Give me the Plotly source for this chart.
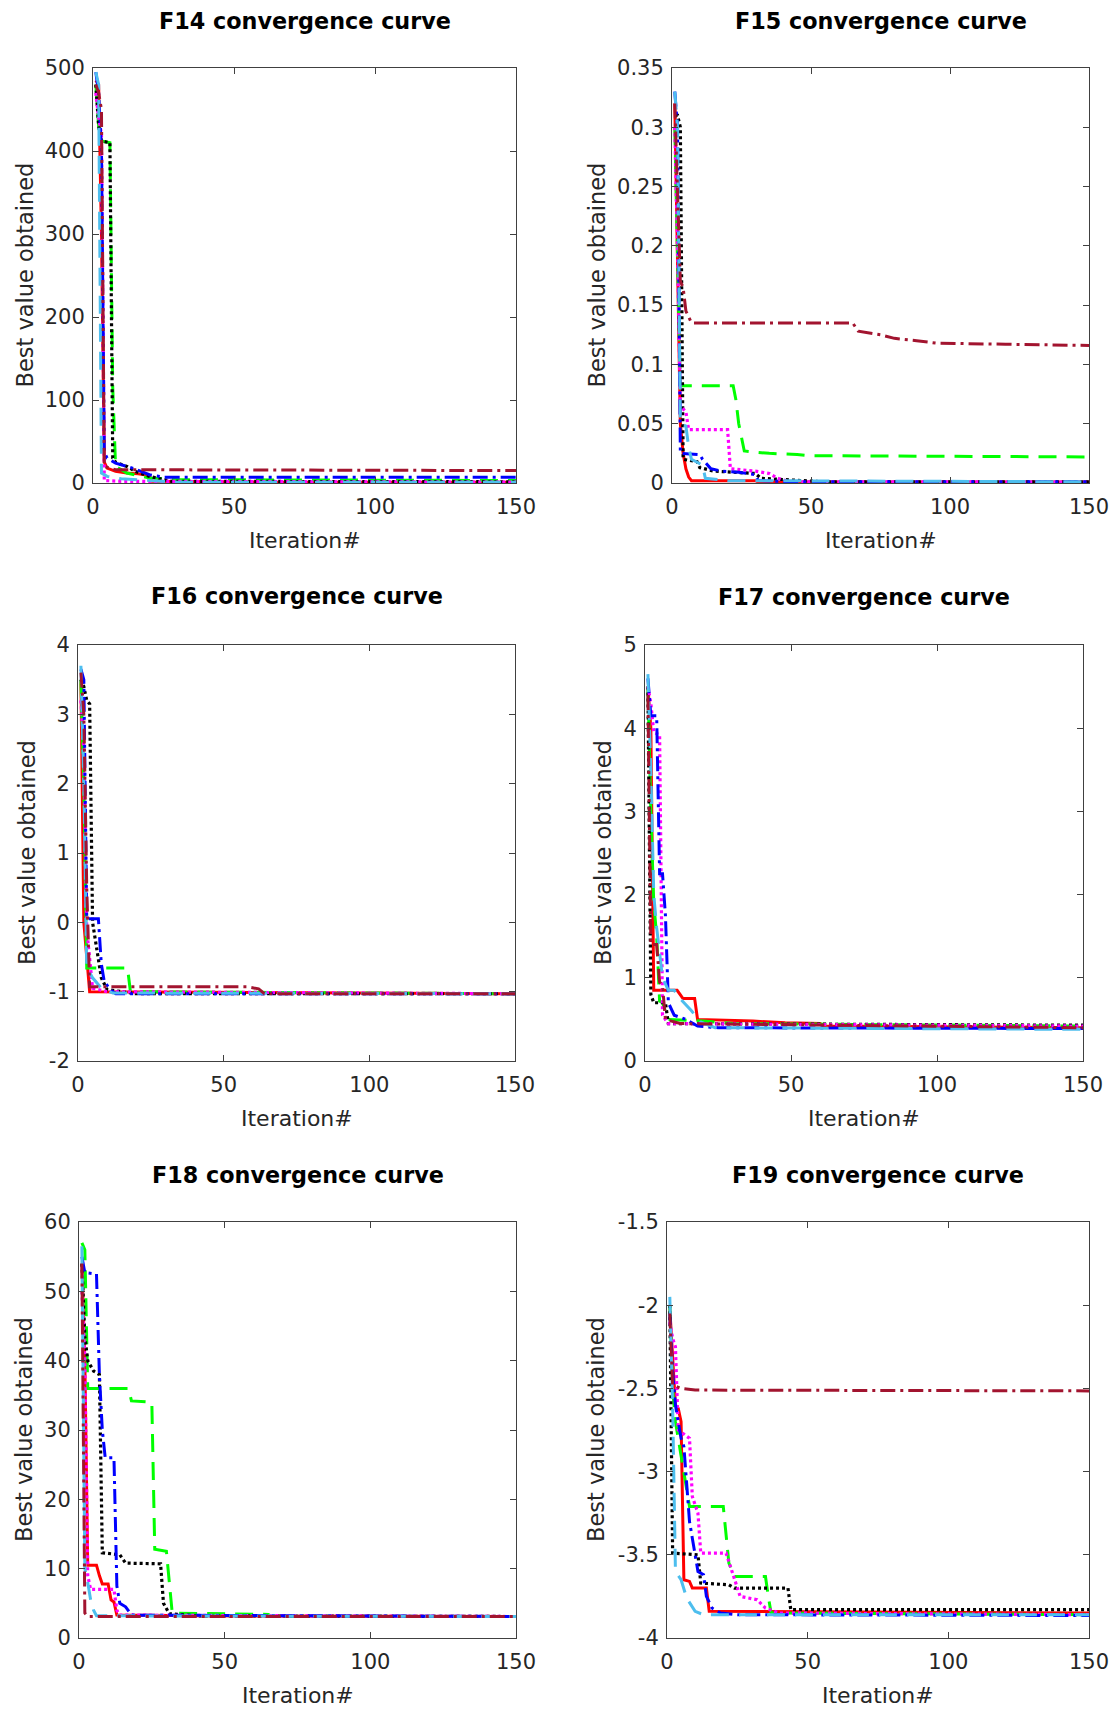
import plotly.graph_objects as go

# ---------------- data ----------------
X_TICKS = [0, 50, 100, 150]
X_TICK_LABELS = ["0", "50", "100", "150"]

TITLES = ["F14 convergence curve", "F15 convergence curve", "F16 convergence curve",
          "F17 convergence curve", "F18 convergence curve", "F19 convergence curve"]

F14_YTICKS = [0, 100, 200, 300, 400, 500]
F14_YLABELS = ["0", "100", "200", "300", "400", "500"]
F15_YTICKS = [0, 0.05, 0.1, 0.15, 0.2, 0.25, 0.3, 0.35]
F15_YLABELS = ["0", "0.05", "0.1", "0.15", "0.2", "0.25", "0.3", "0.35"]
F16_YTICKS = [-2, -1, 0, 1, 2, 3, 4]
F16_YLABELS = ["-2", "-1", "0", "1", "2", "3", "4"]
F17_YTICKS = [0, 1, 2, 3, 4, 5]
F17_YLABELS = ["0", "1", "2", "3", "4", "5"]
F18_YTICKS = [0, 10, 20, 30, 40, 50, 60]
F18_YLABELS = ["0", "10", "20", "30", "40", "50", "60"]
F19_YTICKS = [-4, -3.5, -3, -2.5, -2, -1.5]
F19_YLABELS = ["-4", "-3.5", "-3", "-2.5", "-2", "-1.5"]

# F14
f14_red_x = [1, 2, 3, 4, 5, 8, 12, 16, 20, 21, 60, 150]
f14_red_y = [485, 480, 300, 25, 18, 14, 12, 11, 9, 2, 1, 0.8]
f14_blue_x = [1, 2, 3, 4, 5, 8, 14, 20, 25, 150]
f14_blue_y = [495, 470, 400, 37, 30, 24, 18, 10, 7, 7]
f14_black_x = [1, 2, 3, 6, 7, 8, 12, 15, 20, 28, 150]
f14_black_y = [480, 430, 412, 410, 30, 25, 20, 14, 8, 2, 1.5]
f14_green_x = [1, 2, 3, 6, 7, 8, 12, 20, 30, 150]
f14_green_y = [480, 430, 412, 410, 115, 20, 12, 6, 4, 3]
f14_magenta_x = [1, 2, 3, 4, 10, 150]
f14_magenta_y = [470, 440, 420, 3, 2, 1]
f14_lblue_x = [1, 2, 3, 5, 10, 20, 30, 150]
f14_lblue_y = [495, 480, 12, 8, 5, 3, 1, 1]
f14_maroon_x = [1, 2, 3, 4, 8, 150]
f14_maroon_y = [480, 470, 450, 20, 16, 15]

# F15
f15_red_x = [1, 2, 3, 4, 5, 6, 7, 30, 31, 150]
f15_red_y = [0.32, 0.2, 0.05, 0.025, 0.012, 0.005, 0.002, 0.002, 0.0008, 0.0008]
f15_blue_x = [1, 2, 3, 10, 11, 14, 18, 24, 30, 31, 45, 150]
f15_blue_y = [0.33, 0.3, 0.025, 0.024, 0.02, 0.012, 0.01, 0.009, 0.007, 0.002, 0.001, 0.001]
f15_black_x = [1, 2, 3, 4, 9, 10, 15, 30, 32, 40, 55, 150]
f15_black_y = [0.31, 0.31, 0.3, 0.02, 0.018, 0.013, 0.01, 0.008, 0.004, 0.003, 0.001, 0.001]
f15_green_x = [1, 2, 3, 22, 23, 24, 26, 30, 35, 45, 50, 150]
f15_green_y = [0.3, 0.2, 0.082, 0.082, 0.07, 0.05, 0.027, 0.026, 0.025, 0.024, 0.023, 0.022]
f15_magenta_x = [1, 2, 3, 5, 6, 20, 21, 30, 35, 38, 42, 150]
f15_magenta_y = [0.3, 0.2, 0.065, 0.06, 0.045, 0.045, 0.012, 0.01, 0.008, 0.004, 0.001, 0.0008]
f15_lblue_x = [1, 2, 3, 5, 6, 7, 11, 12, 20, 150]
f15_lblue_y = [0.33, 0.3, 0.05, 0.048, 0.03, 0.02, 0.015, 0.004, 0.002, 0.001]
f15_maroon_x = [1, 2, 3, 4, 5, 6, 7, 65, 67, 75, 80, 88, 95, 120, 150]
f15_maroon_y = [0.32, 0.25, 0.17, 0.165, 0.145, 0.14, 0.135, 0.135, 0.128, 0.125, 0.122, 0.12, 0.118, 0.117, 0.116]

# F16
f16_red_x = [1, 2, 3, 4, 150]
f16_red_y = [3.5, 0.0, -0.5, -1.0, -1.03]
f16_blue_x = [1, 2, 3, 7, 8, 9, 11, 13, 150]
f16_blue_y = [3.65, 3.5, 0.05, 0.05, -0.6, -0.85, -0.97, -1.03, -1.03]
f16_black_x = [1, 2, 3, 4, 5, 7, 8, 10, 15, 20, 150]
f16_black_y = [3.5, 3.4, 3.2, 3.15, 0.0, -0.5, -0.8, -0.97, -1.0, -1.03, -1.03]
f16_green_x = [1, 2, 3, 17, 18, 150]
f16_green_y = [3.5, 2.0, -0.66, -0.66, -1.0, -1.03]
f16_magenta_x = [1, 2, 3, 4, 5, 10, 150]
f16_magenta_y = [3.2, 2.5, -0.1, -0.5, -0.95, -1.0, -1.03]
f16_lblue_x = [1, 2, 3, 5, 8, 12, 150]
f16_lblue_y = [3.7, 2.0, -0.65, -0.8, -0.95, -1.02, -1.03]
f16_maroon_x = [1, 2, 3, 4, 58, 62, 64, 150]
f16_maroon_y = [3.6, 3.0, 0.5, -0.93, -0.93, -0.96, -1.03, -1.03]

# F17
f17_red_x = [1, 2, 3, 11, 12, 13, 17, 18, 37, 48, 60, 61, 150]
f17_red_y = [4.5, 4.0, 0.85, 0.85, 0.8, 0.75, 0.75, 0.5, 0.48, 0.46, 0.45, 0.42, 0.4]
f17_blue_x = [1, 2, 4, 5, 6, 7, 8, 10, 14, 18, 25, 150]
f17_blue_y = [4.6, 4.15, 4.15, 2.25, 2.25, 1.75, 0.7, 0.55, 0.5, 0.42, 0.4, 0.39]
f17_black_x = [1, 2, 3, 7, 8, 150]
f17_black_y = [4.5, 0.8, 0.7, 0.7, 0.45, 0.43]
f17_green_x = [1, 2, 3, 4, 5, 6, 8, 20, 30, 150]
f17_green_y = [4.5, 3.0, 1.9, 1.5, 0.72, 0.7, 0.5, 0.48, 0.45, 0.42]
f17_magenta_x = [1, 2, 3, 5, 6, 8, 150]
f17_magenta_y = [4.5, 4.3, 3.95, 3.92, 0.55, 0.45, 0.42]
f17_lblue_x = [1, 2, 3, 4, 6, 8, 10, 12, 16, 19, 24, 150]
f17_lblue_y = [4.65, 3.5, 2.0, 1.6, 1.0, 0.85, 0.85, 0.75, 0.6, 0.47, 0.4, 0.38]
f17_maroon_x = [1, 2, 4, 5, 6, 7, 12, 150]
f17_maroon_y = [4.4, 1.4, 1.4, 0.95, 0.9, 0.5, 0.45, 0.4]

# F18
f18_red_x = [1, 2, 3, 6, 7, 8, 10, 11, 12, 13, 40, 150]
f18_red_y = [54, 40, 10.5, 10.5, 9, 7.8, 7.8, 5.5, 5.2, 3.3, 3.2, 3.1]
f18_blue_x = [1, 2, 6, 7, 8, 9, 12, 13, 14, 16, 18, 150]
f18_blue_y = [55, 52.7, 52.5, 38, 30, 26, 26, 7.5, 5, 4.5, 3.3, 3.1]
f18_black_x = [1, 2, 3, 5, 7, 8, 14, 16, 28, 29, 31, 40, 150]
f18_black_y = [54, 43.5, 40, 38.5, 38, 12.3, 12, 10.8, 10.7, 5, 3.5, 3.2, 3.1]
f18_green_x = [1, 2, 3, 17, 18, 25, 26, 30, 32, 65, 66, 150]
f18_green_y = [57, 56, 36, 36, 34.2, 34, 12.8, 12.5, 3.6, 3.4, 3.1, 3.1]
f18_magenta_x = [1, 2, 3, 4, 12, 13, 14, 150]
f18_magenta_y = [50, 40, 9, 7, 7, 4, 3.3, 3.1]
f18_lblue_x = [1, 2, 3, 4, 5, 6, 150]
f18_lblue_y = [56.5, 10, 8, 5.5, 4, 3.2, 3.1]
f18_maroon_x = [1, 2, 3, 150]
f18_maroon_y = [54, 3.6, 3.1, 3.1]

# F19
f19_red_x = [1, 2, 3, 4, 5, 6, 8, 9, 14, 15, 150]
f19_red_y = [-2.02, -2.35, -2.6, -2.62, -2.7, -3.65, -3.66, -3.7, -3.7, -3.84, -3.85]
f19_blue_x = [1, 2, 3, 4, 5, 6, 7, 8, 9, 10, 11, 13, 14, 16, 19, 25, 150]
f19_blue_y = [-2.05, -2.4, -2.6, -2.7, -2.8, -2.85, -3.05, -3.3, -3.4, -3.5, -3.6, -3.62, -3.75, -3.82, -3.85, -3.86, -3.865]
f19_black_x = [1, 2, 11, 12, 22, 24, 43, 44, 150]
f19_black_y = [-2.0, -3.49, -3.5, -3.67, -3.68, -3.7, -3.7, -3.83, -3.83]
f19_green_x = [1, 2, 3, 5, 7, 8, 20, 22, 24, 35, 36, 37, 150]
f19_green_y = [-2.0, -2.5, -2.7, -2.9, -3.1, -3.21, -3.21, -3.55, -3.63, -3.63, -3.75, -3.85, -3.86]
f19_magenta_x = [1, 2, 3, 4, 8, 9, 11, 12, 21, 23, 26, 32, 35, 40, 150]
f19_magenta_y = [-2.1, -2.2, -2.25, -2.75, -2.8, -3.15, -3.25, -3.49, -3.49, -3.6, -3.75, -3.77, -3.82, -3.85, -3.86]
f19_lblue_x = [1, 2, 3, 5, 7, 10, 13, 150]
f19_lblue_y = [-1.95, -2.6, -3.6, -3.65, -3.76, -3.84, -3.86, -3.86]
f19_maroon_x = [1, 2, 5, 10, 150]
f19_maroon_y = [-2.05, -2.48, -2.5, -2.51, -2.515]

# ---------------- assembly ----------------
ORDER = ["red", "green", "black", "magenta", "blue", "lblue", "maroon"]
panel_data = [
    dict(red=(f14_red_x, f14_red_y), green=(f14_green_x, f14_green_y), black=(f14_black_x, f14_black_y),
         magenta=(f14_magenta_x, f14_magenta_y), blue=(f14_blue_x, f14_blue_y),
         lblue=(f14_lblue_x, f14_lblue_y), maroon=(f14_maroon_x, f14_maroon_y)),
    dict(red=(f15_red_x, f15_red_y), green=(f15_green_x, f15_green_y), black=(f15_black_x, f15_black_y),
         magenta=(f15_magenta_x, f15_magenta_y), blue=(f15_blue_x, f15_blue_y),
         lblue=(f15_lblue_x, f15_lblue_y), maroon=(f15_maroon_x, f15_maroon_y)),
    dict(red=(f16_red_x, f16_red_y), green=(f16_green_x, f16_green_y), black=(f16_black_x, f16_black_y),
         magenta=(f16_magenta_x, f16_magenta_y), blue=(f16_blue_x, f16_blue_y),
         lblue=(f16_lblue_x, f16_lblue_y), maroon=(f16_maroon_x, f16_maroon_y)),
    dict(red=(f17_red_x, f17_red_y), green=(f17_green_x, f17_green_y), black=(f17_black_x, f17_black_y),
         magenta=(f17_magenta_x, f17_magenta_y), blue=(f17_blue_x, f17_blue_y),
         lblue=(f17_lblue_x, f17_lblue_y), maroon=(f17_maroon_x, f17_maroon_y)),
    dict(red=(f18_red_x, f18_red_y), green=(f18_green_x, f18_green_y), black=(f18_black_x, f18_black_y),
         magenta=(f18_magenta_x, f18_magenta_y), blue=(f18_blue_x, f18_blue_y),
         lblue=(f18_lblue_x, f18_lblue_y), maroon=(f18_maroon_x, f18_maroon_y)),
    dict(red=(f19_red_x, f19_red_y), green=(f19_green_x, f19_green_y), black=(f19_black_x, f19_black_y),
         magenta=(f19_magenta_x, f19_magenta_y), blue=(f19_blue_x, f19_blue_y),
         lblue=(f19_lblue_x, f19_lblue_y), maroon=(f19_maroon_x, f19_maroon_y)),
]
panel_yticks = [(F14_YTICKS, F14_YLABELS), (F15_YTICKS, F15_YLABELS), (F16_YTICKS, F16_YLABELS),
                (F17_YTICKS, F17_YLABELS), (F18_YTICKS, F18_YLABELS), (F19_YTICKS, F19_YLABELS)]

STYLES = {
    "red": dict(color="#FF0000", width=3, dash="solid"),
    "blue": dict(color="#0000FF", width=3, dash="15px,5px,3px,5px"),
    "black": dict(color="#000000", width=3.2, dash="3px,3px"),
    "green": dict(color="#00FF00", width=3, dash="18px,10px"),
    "magenta": dict(color="#FF00FF", width=3.2, dash="3px,3px"),
    "lblue": dict(color="#4DBEEE", width=3, dash="18px,10px"),
    "maroon": dict(color="#A2142F", width=3, dash="15px,5px,3px,5px"),
}

W, H = 1112, 1711
# pixel boxes of each plot area: (left, right, top, bottom)
BOXES = [(93, 516, 68, 483), (672, 1089, 68, 483),
         (78, 515, 645, 1061), (645, 1083, 645, 1061),
         (79, 516, 1222, 1638), (667, 1089, 1222, 1638)]
YTITLE_X = [24, 596, 27, 603, 24, 596]
TITLE_Y = [21, 21, 596, 597, 1175, 1175]

FONT = "DejaVu Sans"
TXT = "#262626"
AX = "#404040"

fig = go.Figure()
layout = dict(template="none", width=W, height=H, autosize=False,
              margin=dict(l=0, r=0, t=0, b=0, pad=0),
              paper_bgcolor="white", plot_bgcolor="white", showlegend=False,
              font=dict(family=FONT, size=21, color=TXT))
annotations = []

for i, series in enumerate(panel_data):
    n = "" if i == 0 else str(i + 1)
    xa, ya = "x" + n, "y" + n
    for key in ORDER:
        xs, ys = series[key]
        fig.add_trace(go.Scatter(x=xs, y=ys, mode="lines", line=STYLES[key],
                                 xaxis=xa, yaxis=ya, hoverinfo="skip", showlegend=False))
    l, r, t, b = BOXES[i]
    yt, yl = panel_yticks[i]
    common = dict(showline=True, linecolor=AX, linewidth=1, mirror="ticks", ticks="inside",
                  ticklen=6, tickcolor=AX, tickwidth=1, showgrid=False, zeroline=False,
                  automargin=False, tickfont=dict(family=FONT, size=21, color=TXT))
    layout["xaxis" + n] = dict(domain=[l / W, r / W], anchor=ya, range=[0, 150],
                               tickmode="array", tickvals=X_TICKS, ticktext=X_TICK_LABELS,
                               ticklabelstandoff=5, **common)
    layout["yaxis" + n] = dict(domain=[1 - b / H, 1 - t / H], anchor=xa,
                               range=[yt[0], yt[-1]], tickmode="array", tickvals=yt,
                               ticktext=yl, ticklabelstandoff=3, **common)
    cx = (l + r) / 2 / W
    annotations.append(dict(text="<b>" + TITLES[i] + "</b>", x=cx, y=1 - TITLE_Y[i] / H,
                            xref="paper", yref="paper", showarrow=False,
                            xanchor="center", yanchor="middle",
                            font=dict(family=FONT, size=22.3, color="#000000")))
    annotations.append(dict(text="Iteration#", x=cx, y=1 - (b + 57) / H,
                            xref="paper", yref="paper", showarrow=False,
                            xanchor="center", yanchor="middle",
                            font=dict(family=FONT, size=22, color=TXT)))
    annotations.append(dict(text="Best value obtained", x=YTITLE_X[i] / W,
                            y=1 - (t + b) / 2 / H, xref="paper", yref="paper",
                            showarrow=False, textangle=-90,
                            xanchor="center", yanchor="middle",
                            font=dict(family=FONT, size=22.5, color=TXT)))

layout["annotations"] = annotations
fig.update_layout(**layout)
fig.write_html(
    "out.html",
    post_script="document.body.style.margin='0';document.body.style.padding='0';"
                "document.body.style.overflow='hidden';",
)
